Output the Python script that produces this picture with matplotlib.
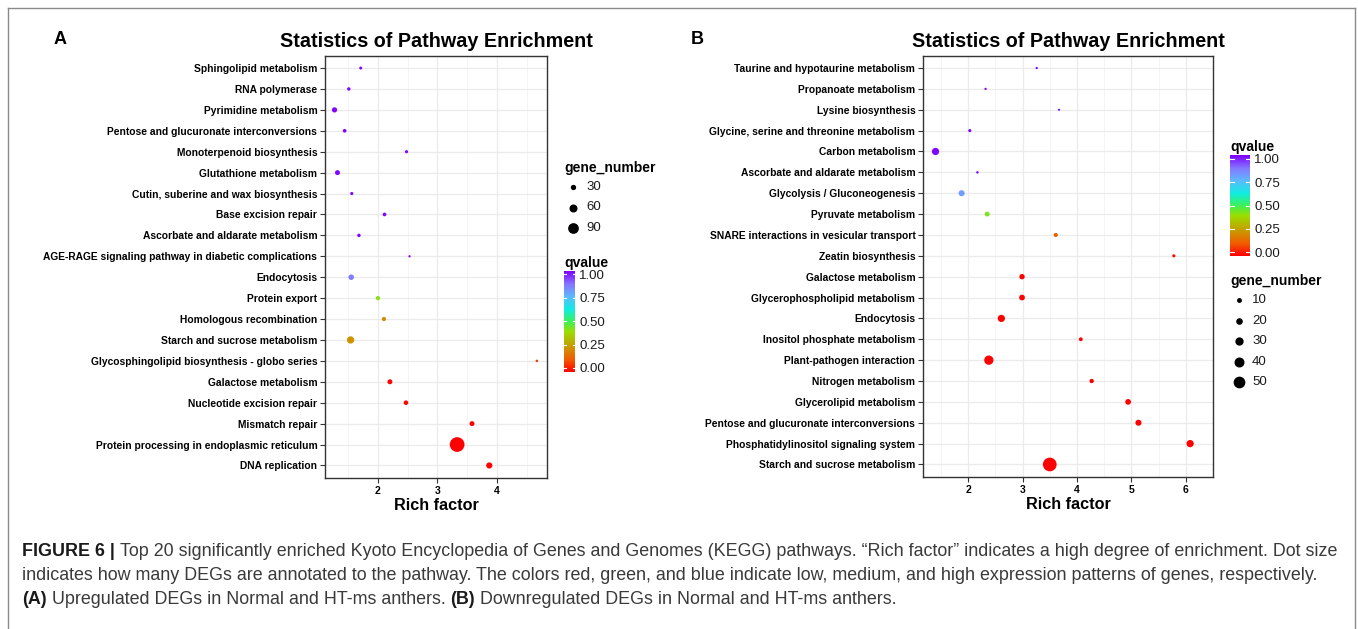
import numpy as np
import matplotlib
matplotlib.use("Agg")
import matplotlib.pyplot as plt
from matplotlib.colors import LinearSegmentedColormap
from matplotlib.lines import Line2D

plt.rcParams['font.family'] = ['Liberation Sans', 'DejaVu Sans']

W, H = 1358, 629

# ---- panel A: upregulated
pathways_a = [
    "Sphingolipid metabolism", "RNA polymerase", "Pyrimidine metabolism",
    "Pentose and glucuronate interconversions", "Monoterpenoid biosynthesis",
    "Glutathione metabolism", "Cutin, suberine and wax biosynthesis",
    "Base excision repair", "Ascorbate and aldarate metabolism",
    "AGE-RAGE signaling pathway in diabetic complications", "Endocytosis",
    "Protein export", "Homologous recombination", "Starch and sucrose metabolism",
    "Glycosphingolipid biosynthesis - globo series", "Galactose metabolism",
    "Nucleotide excision repair", "Mismatch repair",
    "Protein processing in endoplasmic reticulum", "DNA replication",
]
rich_a = [1.71, 1.51, 1.27, 1.44, 2.48, 1.32, 1.56, 2.11, 1.68, 2.53,
          1.55, 2.00, 2.10, 1.54, 4.67, 2.20, 2.47, 3.58, 3.33, 3.87]
genes_a = [20, 25, 45, 28, 22, 42, 22, 28, 25, 12,
           48, 34, 34, 68, 15, 42, 38, 42, 150, 55]
qvalue_a = [0.99, 0.99, 0.99, 0.99, 0.99, 0.99, 0.99, 0.99, 0.99, 0.99,
            0.86, 0.42, 0.22, 0.24, 0.08, 0.01, 0.01, 0.0, 0.0, 0.0]
size_breaks_a = [30, 60, 90]

# ---- panel B: downregulated
pathways_b = [
    "Taurine and hypotaurine metabolism", "Propanoate metabolism",
    "Lysine biosynthesis", "Glycine, serine and threonine metabolism",
    "Carbon metabolism", "Ascorbate and aldarate metabolism",
    "Glycolysis / Gluconeogenesis", "Pyruvate metabolism",
    "SNARE interactions in vesicular transport", "Zeatin biosynthesis",
    "Galactose metabolism", "Glycerophospholipid metabolism", "Endocytosis",
    "Inositol phosphate metabolism", "Plant-pathogen interaction",
    "Nitrogen metabolism", "Glycerolipid metabolism",
    "Pentose and glucuronate interconversions",
    "Phosphatidylinositol signaling system", "Starch and sucrose metabolism",
]
rich_b = [3.26, 2.32, 3.67, 2.03, 1.40, 2.17, 1.88, 2.35, 3.61, 5.78,
          2.99, 2.99, 2.61, 4.07, 2.38, 4.27, 4.94, 5.13, 6.08, 3.50]
genes_b = [3, 3, 2, 8, 32, 4, 25, 18, 14, 8,
           21, 23, 32, 12, 44, 15, 23, 25, 32, 70]
qvalue_b = [0.99, 0.99, 0.99, 0.99, 0.99, 0.99, 0.80, 0.43, 0.13, 0.02,
            0.0, 0.0, 0.0, 0.0, 0.0, 0.0, 0.0, 0.0, 0.0, 0.0]
size_breaks_b = [10, 20, 30, 40, 50]
qbreaks = [0.0, 0.25, 0.5, 0.75, 1.0]

cmap = LinearSegmentedColormap.from_list("q", [
    (0.0, "#FF0000"), (0.12, "#F25A00"), (0.25, "#C99A00"), (0.40, "#9ADF00"),
    (0.50, "#3EF05A"), (0.62, "#10EEE0"), (0.75, "#5FB8FF"), (0.87, "#8478FF"),
    (1.0, "#7F00FF")])

fig = plt.figure(figsize=(W / 100, H / 100), dpi=100)


def fx(px):
    return px / W


def fy(py):
    return 1 - py / H


def area(n, c, k):
    d = (c + k * np.asarray(n, dtype=float)) * 0.72
    return d ** 2


def panel(box, names, rich, genes, q, xlim, xt, szc, szk):
    l, t, r, b = box
    ax = fig.add_axes([fx(l), fy(b), fx(r) - fx(l), fy(t) - fy(b)])
    ypos = np.arange(len(names))
    ax.set_xlim(*xlim)
    ax.set_ylim(len(names) - 0.4, -0.6)
    ax.set_xticks(xt)
    ax.set_xticks(np.arange(xt[0] - 0.5, xt[-1] + 0.6, 1.0), minor=True)
    ax.set_yticks(ypos)
    ax.set_yticklabels(names, fontsize=7.35, fontweight="bold")
    ax.set_xticklabels([str(v) for v in xt], fontsize=7.5, fontweight="bold")
    ax.tick_params(axis="both", which="major", length=3.5, width=0.8, color="#333333", pad=2)
    ax.tick_params(axis="x", which="minor", length=0)
    ax.grid(True, which="major", color="#EBEBEB", lw=0.9)
    ax.grid(True, which="minor", axis="x", color="#F4F4F4", lw=0.6)
    ax.set_axisbelow(True)
    for s in ax.spines.values():
        s.set_color("#333333")
        s.set_linewidth(1.0)
    ax.scatter(rich, ypos, s=area(genes, szc, szk), c=q, cmap=cmap, vmin=0, vmax=1,
               linewidths=0, zorder=3)
    ax.set_xlabel("Rich factor", fontsize=11.7, fontweight="bold", labelpad=2)
    ax.set_title("Statistics of Pathway Enrichment", fontsize=14.2, fontweight="bold", pad=6)
    return ax


def colorbar(l, t, r, b):
    cax = fig.add_axes([fx(l), fy(b), fx(r) - fx(l), fy(t) - fy(b)])
    grad = np.linspace(0, 1, 256).reshape(-1, 1)
    cax.imshow(grad, cmap=cmap, origin="lower", aspect="auto", extent=(0, 1, -0.04, 1.04))
    cax.set_xlim(0, 1)
    cax.set_ylim(-0.04, 1.04)
    for v in qbreaks:
        cax.plot([0, 0.2], [v, v], color="white", lw=0.8)
        cax.plot([0.8, 1], [v, v], color="white", lw=0.8)
    cax.set_xticks([])
    cax.yaxis.tick_right()
    cax.set_yticks(qbreaks)
    cax.set_yticklabels(["%.2f" % v for v in qbreaks], fontsize=9.5, color="#1a1a1a")
    cax.tick_params(axis="y", length=0, pad=3)
    for s in cax.spines.values():
        s.set_visible(False)
    fig.text(fx(l), fy(t - 1), "qvalue", fontsize=10, fontweight="bold", va="bottom", ha="left")


def size_legend(x, ytitle, ys, breaks, szc, szk):
    fig.text(fx(x), fy(ytitle), "gene_number", fontsize=10, fontweight="bold", va="center", ha="left")
    for yy, v in zip(ys, breaks):
        fig.add_artist(Line2D([fx(x + 9)], [fy(yy)], marker="o", color="black", lw=0,
                              markersize=np.sqrt(area(v, szc, szk)), transform=fig.transFigure))
        fig.text(fx(x + 22), fy(yy), str(v), fontsize=9.5, va="center", ha="left", color="#1a1a1a")


panel((325, 55.5, 547, 478), pathways_a, rich_a, genes_a, qvalue_a, (1.11, 4.84), [2, 3, 4], 1.2, 0.09)
panel((923, 55.5, 1213, 477), pathways_b, rich_b, genes_b, qvalue_b, (1.17, 6.30), [2, 3, 4, 5, 6], 1.8, 0.17)

size_legend(564, 168, [187, 207.5, 228], size_breaks_a, 1.2, 0.09)
colorbar(564, 270.7, 575, 371.7)
colorbar(1230, 155, 1250, 256)
size_legend(1230, 281, [300.5, 321, 341, 361.5, 382], size_breaks_b, 1.8, 0.17)

fig.text(fx(60), fy(40), "A", fontsize=13, fontweight="bold", ha="center", va="center")
fig.text(fx(697), fy(40), "B", fontsize=13, fontweight="bold", ha="center", va="center")

# outer frame
for xs, ys in [((8, 8), (629, 8)), ((8, 1355), (8, 8)), ((1355, 1355), (8, 629))]:
    fig.add_artist(Line2D([fx(v) for v in xs], [fy(v) for v in ys], color="#8a8a8a", lw=1.0))

# caption
renderer = fig.canvas.get_renderer()


def rich_line(x, y, parts, size=12.9):
    for txt, bold in parts:
        t = fig.text(fx(x), fy(y), txt, fontsize=size, fontweight="bold" if bold else "normal",
                     color="#1a1a1a" if bold else "#3a3a3a", va="center", ha="left")
        x += t.get_window_extent(renderer=renderer).width


rich_line(22, 551, [("FIGURE 6 | ", True),
                    ("Top 20 significantly enriched Kyoto Encyclopedia of Genes and Genomes (KEGG) "
                     "pathways. \u201cRich factor\u201d indicates a high degree of enrichment. Dot size", False)])
rich_line(22, 575.5, [("indicates how many DEGs are annotated to the pathway. The colors red, green, and blue "
                       "indicate low, medium, and high expression patterns of genes, respectively.", False)])
rich_line(22, 600, [("(A)", True), (" Upregulated DEGs in Normal and HT-ms anthers. ", False),
                    ("(B)", True), (" Downregulated DEGs in Normal and HT-ms anthers.", False)])

fig.savefig("out.png", dpi=100)
